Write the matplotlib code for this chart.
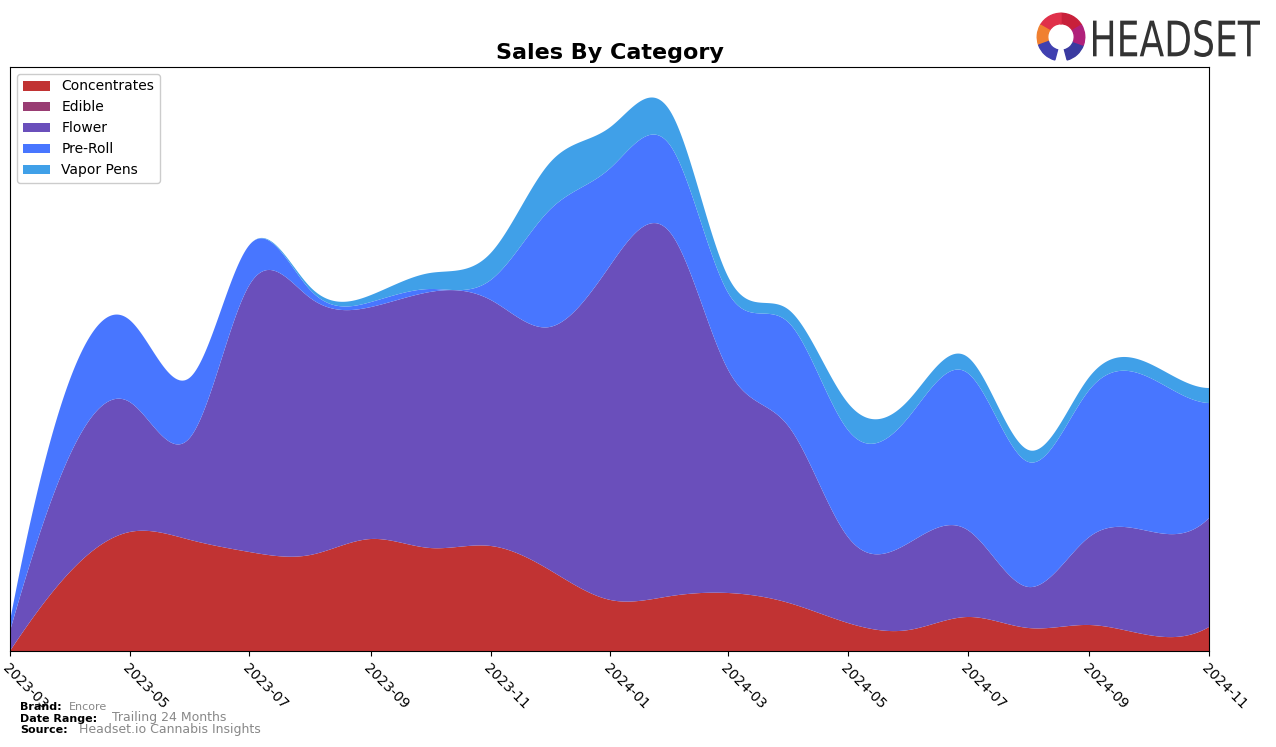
import numpy as np
import pandas as pd
import matplotlib
matplotlib.use("Agg")
import matplotlib.pyplot as plt
import matplotlib.dates as mdates
from matplotlib.patches import Wedge, PathPatch
from matplotlib.textpath import TextPath
from matplotlib.font_manager import FontProperties
from matplotlib.transforms import Affine2D

# monthly sales by category (arbitrary units)
months = pd.date_range("2023-03-01", "2024-11-01", freq="MS")
categories = ["Concentrates", "Edible", "Flower", "Pre-Roll", "Vapor Pens"]
concentrates = [0, 80, 119, 111, 99, 96, 112, 103, 105, 81, 51, 55, 58, 48, 28, 21, 34, 23, 26, 16, 24]
edible = [0] * 21
flower = [20, 118, 130, 103, 267, 257, 232, 256, 246, 243, 335, 362, 223, 176, 86, 87, 87, 41, 88, 104, 109]
pre_roll = [10, 76, 82, 60, 40, 8, 5, 3, 20, 117, 97, 87, 77, 104, 107, 126, 157, 125, 147, 154, 115]
vapor_pens = [0, 0, 0, 0, 0, 3, 7, 16, 27, 47, 41, 34, 16, 13, 27, 17, 16, 12, 13, 14, 15]
colors = ["#C13333", "#993D73", "#6A4FBB", "#4876FF", "#40A0E8"]


def cubic_spline(x, y, xs):
    # not-a-knot cubic spline, just for smooth drawing
    n = len(x)
    h = np.diff(x)
    A = np.zeros((n, n))
    r = np.zeros(n)
    A[0, :3] = [h[1], -(h[0] + h[1]), h[0]]
    A[-1, -3:] = [h[-1], -(h[-2] + h[-1]), h[-2]]
    for i in range(1, n - 1):
        A[i, i - 1] = h[i - 1]
        A[i, i] = 2 * (h[i - 1] + h[i])
        A[i, i + 1] = h[i]
        r[i] = 3 * ((y[i + 1] - y[i]) / h[i] - (y[i] - y[i - 1]) / h[i - 1])
    c = np.linalg.solve(A, r)
    b = (y[1:] - y[:-1]) / h - h * (2 * c[:-1] + c[1:]) / 3
    d = (c[1:] - c[:-1]) / (3 * h)
    idx = np.clip(np.searchsorted(x, xs) - 1, 0, n - 2)
    dx = xs - x[idx]
    return y[idx] + b[idx] * dx + c[idx] * dx ** 2 + d[idx] * dx ** 3


x = mdates.date2num(months)
xs = np.linspace(x[0], x[-1], 800)
series = [concentrates, edible, flower, pre_roll, vapor_pens]
smooth = [np.clip(cubic_spline(x, np.array(s, dtype=float), xs), 0, None) for s in series]

W, H = 1276, 747
fig = plt.figure(figsize=(W / 100, H / 100), dpi=100)
ax = fig.add_axes([10 / W, 1 - 651 / H, 1199 / W, 584 / H])
ax.stackplot(mdates.num2date(xs), *smooth, labels=categories, colors=colors)

ax.set_xlim(months[0], months[-1])
ax.set_ylim(0, 584)
ax.set_yticks([])
ax.xaxis.set_major_locator(mdates.MonthLocator(bymonth=[1, 3, 5, 7, 9, 11]))
ax.xaxis.set_major_formatter(mdates.DateFormatter("%Y-%m"))
for lab in ax.get_xticklabels():
    lab.set_rotation(-45)
    lab.set_ha("left")
    lab.set_rotation_mode("anchor")
    lab.set_fontsize(10)

ax.set_title("Sales By Category", fontsize=16, fontweight="bold", pad=6)
ax.legend(loc="upper left", fontsize=10, framealpha=1)

# footer
fig.text(20 / W, 1 - 707 / H, "Brand:", fontsize=8, fontweight="bold", va="center")
fig.text(69 / W, 1 - 707 / H, "Encore", fontsize=8, color="#888888", va="center")
fig.text(20 / W, 1 - 719 / H, "Date Range:", fontsize=8, fontweight="bold", va="center")
fig.text(112 / W, 1 - 718 / H, "Trailing 24 Months", fontsize=9, color="#888888", va="center")
fig.text(20 / W, 1 - 730 / H, "Source:", fontsize=8, fontweight="bold", va="center")
fig.text(79 / W, 1 - 729 / H, "Headset.io Cannabis Insights", fontsize=9, color="#888888", va="center")

# logo icon
lax = fig.add_axes([1036 / W, 1 - 62 / H, 50 / W, 50 / H])
lax.set_xlim(-1, 1)
lax.set_ylim(-1, 1)
lax.axis("off")
ring = [(30, 90, "#C8203A"), (90, 150, "#E0304A"), (150, 200, "#F08030"),
        (200, 255, "#4040B0"), (285, 340, "#3A3AA0"), (340, 390, "#B0207A")]
for t1, t2, col in ring:
    lax.add_patch(Wedge((0, 0), 0.95, t1, t2, width=0.42, color=col))

# logo word, squeezed into its box
tp = TextPath((0, 0), "HEADSET", size=10, prop=FontProperties(family="DejaVu Sans"))
ext = tp.get_extents()
x0, x1, ytop, ybot = 1093, 1260, 20, 57
sx = (x1 - x0) / W / ext.width
sy = (ybot - ytop) / H / ext.height
tr = Affine2D().translate(-ext.x0, -ext.y0).scale(sx, sy).translate(x0 / W, 1 - ybot / H)
fig.patches.append(PathPatch(tr.transform_path(tp), color="#333333", lw=0,
                             transform=fig.transFigure, figure=fig))

fig.savefig("out.png", dpi=100)
